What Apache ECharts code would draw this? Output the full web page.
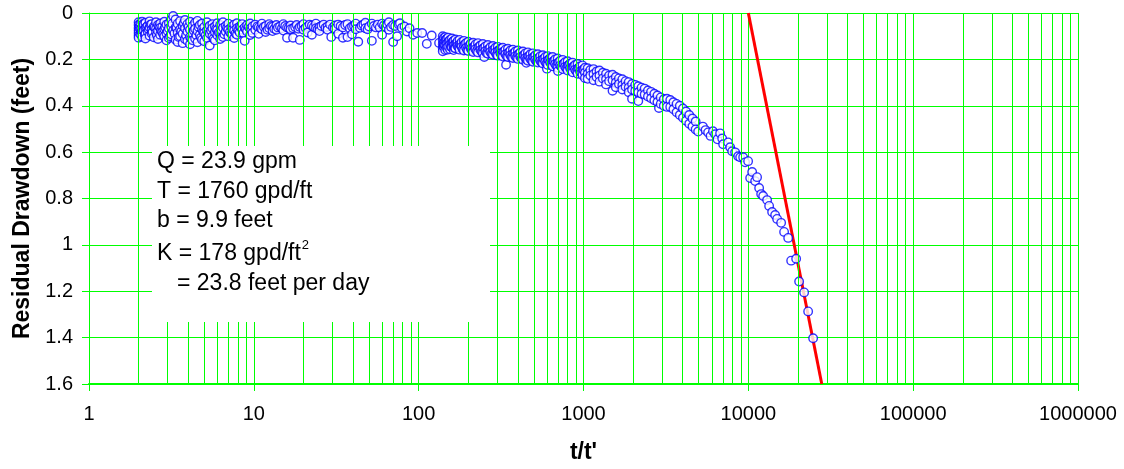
<!DOCTYPE html>
<html>
<head>
<meta charset="utf-8">
<script src="https://cdn.jsdelivr.net/npm/echarts@6/dist/echarts.min.js"></script>
<style>
  html, body { margin: 0; padding: 0; background: #ffffff; }
  #chart { width: 1124px; height: 469px; }
</style>
</head>
<body>
<div id="chart"></div>
<script>
// Recovery test: residual drawdown against t/t' (semi-log, Theis recovery)
const decades = [1, 10, 100, 1000, 10000, 100000, 1000000];
const drawdownRange = [0, 1.6];

// Observed residual drawdown, [t/t', feet]
const lateRecovery = [
  [2.00,0.040],[2.00,0.052],[2.00,0.065],[2.00,0.075],[2.00,0.086],[2.00,0.097],[2.00,0.107],
  [2.03,0.058],[2.05,0.045],[2.05,0.070],[2.05,0.092],[2.08,0.080],
  [2.10,0.038],[2.10,0.060],[2.10,0.083],[2.10,0.102],[2.12,0.048],
  [2.15,0.050],[2.15,0.074],[2.18,0.095],
  [2.20,0.042],[2.20,0.066],[2.20,0.090],[2.20,0.110],[2.23,0.060],
  [2.27,0.055],[2.27,0.080],[2.30,0.070],
  [2.33,0.036],[2.33,0.062],[2.33,0.098],[2.36,0.050],
  [2.40,0.048],[2.40,0.072],[2.40,0.088],[2.43,0.082],
  [2.47,0.058],[2.47,0.105],[2.50,0.062],
  [2.55,0.040],[2.55,0.068],[2.55,0.085],[2.58,0.095],
  [2.62,0.052],[2.62,0.078],[2.62,0.112],[2.66,0.058],
  [2.70,0.045],[2.70,0.064],[2.70,0.094],[2.74,0.076],
  [2.78,0.060],[2.78,0.082],[2.82,0.092],
  [2.86,0.038],[2.86,0.070],[2.86,0.100],[2.90,0.060],
  [2.95,0.050],[2.95,0.088],[2.95,0.118],[3.00,0.078],
  [3.05,0.044],[3.05,0.066],[3.05,0.108],[3.10,0.100],
  [3.15,0.030],[3.15,0.058],[3.15,0.092],[3.20,0.046],
  [3.24,0.013],[3.24,0.075],[3.30,0.088],
  [3.35,0.028],[3.35,0.062],[3.35,0.115],[3.40,0.064],
  [3.45,0.046],[3.45,0.084],[3.45,0.125],[3.50,0.104],
  [3.57,0.035],[3.57,0.070],[3.57,0.100],[3.63,0.080],
  [3.70,0.055],[3.70,0.090],[3.70,0.130],[3.76,0.044],
  [3.82,0.030],[3.82,0.066],[3.82,0.112],[3.88,0.096],
  [3.95,0.048],[3.95,0.080],[3.95,0.120],[4.02,0.060],
  [4.10,0.038],[4.10,0.072],[4.10,0.104],[4.10,0.135],[4.17,0.110],
  [4.25,0.056],[4.25,0.088],[4.25,0.118],[4.32,0.076],
  [4.40,0.042],[4.40,0.068],[4.40,0.110],[4.48,0.096],
  [4.55,0.034],[4.55,0.078],[4.55,0.126],[4.62,0.060],
  [4.70,0.052],[4.70,0.094],[4.78,0.106],
  [4.85,0.045],[4.85,0.070],[4.85,0.115],[4.93,0.080],
  [5.00,0.060],[5.00,0.086],[5.00,0.122],[5.10,0.096],
  [5.20,0.040],[5.20,0.074],[5.20,0.108],[5.30,0.062],
  [5.40,0.055],[5.40,0.090],[5.40,0.140],[5.50,0.076],
  [5.60,0.048],[5.60,0.066],[5.60,0.100],[5.70,0.110],
  [5.80,0.058],[5.80,0.082],[5.80,0.118],[5.90,0.068],
  [6.00,0.044],[6.00,0.072],[6.00,0.096],[6.12,0.084],
  [6.25,0.052],[6.25,0.086],[6.25,0.112],[6.38,0.074],
  [6.50,0.040],[6.50,0.064],[6.50,0.104],[6.62,0.092],
  [6.75,0.056],[6.75,0.080],[6.88,0.064],
  [7.00,0.046],[7.00,0.072],[7.00,0.100],[7.15,0.082],
  [7.30,0.060],[7.30,0.090],[7.45,0.070],
  [7.60,0.050],[7.60,0.076],[7.60,0.108],[7.75,0.088],
  [7.90,0.044],[7.90,0.066],[7.90,0.094],[8.05,0.074],
  [8.20,0.058],[8.20,0.084],[8.35,0.060],
  [8.50,0.048],[8.50,0.072],[8.65,0.086],
  [8.80,0.062],[8.80,0.120],[8.95,0.070],
  [9.10,0.052],[9.10,0.080],[9.30,0.060],
  [9.50,0.045],[9.50,0.068],[9.50,0.095],[9.65,0.074],
  [9.80,0.058],[9.80,0.086]
];

const midRecovery = [
  [10.2,0.050],[10.2,0.072],[10.5,0.058],[10.7,0.062],[10.7,0.090],[11.0,0.066],
  [11.2,0.046],[11.2,0.070],[11.5,0.060],[11.8,0.056],[11.8,0.082],[12.1,0.072],
  [12.4,0.048],[12.4,0.066],[12.7,0.056],[13.0,0.060],[13.0,0.078],[13.3,0.068],
  [13.7,0.052],[13.7,0.072],[14.0,0.062],[14.4,0.058],[14.8,0.066],[15.1,0.048],
  [15.1,0.076],[15.5,0.056],[15.9,0.062],[15.9,0.107],[16.3,0.064],[16.7,0.054],
  [16.7,0.070],[17.3,0.066],[17.3,0.107],[17.8,0.060],[18.2,0.052],[18.6,0.068],
  [19.0,0.060],[19.0,0.116],[19.5,0.056],[20.0,0.048],[20.0,0.072],[20.6,0.064],
  [21.2,0.058],[21.2,0.084],[21.8,0.050],[22.5,0.054],[22.5,0.094],[23.1,0.060],
  [23.8,0.046],[23.8,0.066],[24.4,0.070],[25.0,0.060],[25.0,0.078],[25.7,0.056],
  [26.5,0.050],[27.2,0.064],[28.0,0.058],[28.0,0.072],[29.0,0.050],[29.5,0.103],
  [30.2,0.062],[31.0,0.054],[31.0,0.068],[32.5,0.050],[32.5,0.090],[33.6,0.056],
  [34.7,0.062],[34.7,0.107],[35.8,0.052],[37.0,0.048],[37.0,0.104],[38.2,0.066],
  [39.4,0.058],[39.4,0.092],[40.5,0.056],[41.5,0.046],[41.5,0.070],[43.0,0.124],
  [44.0,0.064],[45.0,0.054],[46.2,0.050],[47.5,0.042],[47.5,0.066],[49.0,0.070],
  [50.0,0.058],[52.0,0.046],[52.0,0.120],[53.5,0.056],[55.0,0.062],[56.5,0.050],
  [58.0,0.062],[60.0,0.046],[60.0,0.094],[61.5,0.054],[63.0,0.060],[64.5,0.050],
  [66.0,0.040],[66.0,0.072],[68.0,0.060],[70.0,0.052],[70.0,0.125],[72.0,0.056],
  [74.0,0.100],[75.5,0.048],[77.0,0.044],[79.0,0.064],[82.0,0.058],[85.0,0.080],
  [88.0,0.066],[92.5,0.094],[98.0,0.086],[105,0.086],[112,0.133],[120,0.097],
  [133,0.129]
];

const earlyRecovery = [
  [140,0.100],[140,0.118],[140,0.135],[140,0.152],[140,0.165],
  [142,0.108],[142,0.128],[142,0.146],[143,0.137],
  [145,0.104],[145,0.122],[145,0.140],[145,0.160],[146,0.114],
  [148,0.112],[148,0.132],[148,0.150],[150,0.158],
  [151,0.106],[151,0.126],[151,0.144],[153,0.120],
  [155,0.116],[155,0.136],[155,0.156],[157,0.146],
  [159,0.110],[159,0.130],[159,0.148],[161,0.124],
  [163,0.120],[163,0.140],[163,0.160],[165,0.150],
  [167,0.114],[167,0.134],[167,0.152],[170,0.132],
  [172,0.122],[172,0.142],[175,0.148],
  [177,0.116],[177,0.136],[177,0.158],[180,0.138],
  [182,0.126],[182,0.146],[185,0.156],
  [188,0.120],[188,0.140],[188,0.162],[191,0.134],
  [194,0.130],[194,0.150],[197,0.160],
  [200,0.124],[200,0.144],[200,0.164],[204,0.140],
  [207,0.132],[207,0.154],[210,0.160],
  [214,0.128],[214,0.148],[214,0.168],[218,0.146],
  [221,0.136],[221,0.156],[225,0.164],
  [229,0.130],[229,0.150],[229,0.170],[233,0.144],
  [237,0.140],[237,0.160],[241,0.166],
  [245,0.134],[245,0.154],[245,0.174],[249,0.150],
  [250,0.190],
  [254,0.144],[254,0.164],[258,0.172],
  [263,0.138],[263,0.158],[263,0.176],[268,0.156],
  [272,0.148],[272,0.168],[277,0.176],
  [282,0.142],[282,0.160],[282,0.180],[287,0.162],
  [292,0.150],[292,0.170],[297,0.180],
  [302,0.146],[302,0.164],[302,0.184],[308,0.160],
  [313,0.154],[313,0.174],[318,0.182],
  [324,0.150],[324,0.168],[324,0.188],[330,0.166],
  [336,0.158],[336,0.178],
  [339,0.223],[342,0.186],
  [348,0.154],[348,0.172],[348,0.190],[354,0.170],
  [360,0.162],[360,0.182],[366,0.190],
  [373,0.158],[373,0.176],[373,0.194],[380,0.174],
  [386,0.166],[386,0.186],[393,0.192],
  [400,0.162],[400,0.180],[400,0.198],[407,0.176],
  [414,0.170],[414,0.190],[421,0.196],
  [429,0.166],[429,0.184],[429,0.202],[436,0.182],
  [444,0.174],[444,0.194],
  [450,0.215],[452,0.200],
  [460,0.170],[460,0.188],[460,0.206],[468,0.186],
  [476,0.178],[476,0.198],[485,0.204],
  [493,0.174],[493,0.192],[493,0.210],[502,0.190],
  [510,0.182],[510,0.202],[519,0.208],
  [528,0.178],[528,0.196],[528,0.214],[537,0.194],
  [547,0.186],[547,0.206],[556,0.212],
  [566,0.182],[566,0.200],[566,0.218],[576,0.198],
  [586,0.190],[586,0.210],[596,0.218],
  [600,0.240],
  [607,0.186],[607,0.204],[607,0.224],[617,0.202],
  [628,0.194],[628,0.214],[639,0.222],
  [650,0.190],[650,0.210],[650,0.230],[661,0.208],
  [673,0.200],[673,0.220],[685,0.228],
  [697,0.196],[697,0.216],[697,0.236],
  [700,0.250],[709,0.212],
  [722,0.206],[722,0.226],[734,0.232],
  [747,0.202],[747,0.222],[747,0.242],[760,0.218],
  [774,0.212],[774,0.232],[787,0.238],
  [801,0.208],[801,0.228],[801,0.248],[815,0.224],
  [829,0.218],[829,0.238],[843,0.244],
  [858,0.214],[858,0.234],[858,0.256],[873,0.230],
  [889,0.224],[889,0.244],[904,0.250],
  [920,0.220],[920,0.240],[920,0.262],[936,0.236],
  [952,0.230],[952,0.252],[969,0.258],
  [986,0.226],[986,0.246],[986,0.268],[1003,0.246],
  [1020,0.236],[1020,0.258],[1020,0.280],
  [1060,0.238],[1060,0.262],[1060,0.284],
  [1100,0.246],[1100,0.270],
  [1150,0.242],[1150,0.264],[1150,0.290],
  [1200,0.252],[1200,0.276],
  [1250,0.248],[1250,0.270],[1250,0.296],
  [1310,0.258],[1310,0.282],
  [1370,0.262],[1370,0.286],[1370,0.308],
  [1430,0.270],[1430,0.294],
  [1500,0.266],[1500,0.290],[1500,0.335],
  [1570,0.276],[1570,0.300],[1570,0.320],
  [1640,0.282],[1640,0.306],
  [1720,0.286],[1720,0.312],[1720,0.330],
  [1800,0.294],[1800,0.318],
  [1880,0.298],[1880,0.322],[1880,0.342],
  [1970,0.306],[1970,0.330],[1970,0.370],
  [2060,0.310],[2060,0.336],
  [2150,0.316],[2150,0.342],[2150,0.380],
  [2250,0.322],[2250,0.348],
  [2350,0.326],[2350,0.352],
  [2460,0.334],[2460,0.360],
  [2570,0.340],[2570,0.368],
  [2690,0.348],[2690,0.376],
  [2810,0.356],[2810,0.384],[2870,0.410],
  [2940,0.364],[2940,0.392],
  [3070,0.372],[3070,0.400],
  [3210,0.370],[3210,0.405],
  [3360,0.375],[3360,0.405],
  [3510,0.385],[3510,0.415],
  [3670,0.392],[3670,0.428],
  [3840,0.400],[3840,0.440],
  [4010,0.412],[4010,0.452],
  [4190,0.425],[4190,0.465],
  [4380,0.440],[4380,0.478],
  [4580,0.455],[4580,0.490],
  [4790,0.468],[4790,0.502]
];

const initialRecovery = [
  [4960,0.511],[5300,0.490],[5500,0.505],[5700,0.515],[5900,0.530],[6100,0.510],
  [6290,0.523],[6500,0.545],[6740,0.519],[6940,0.541],[7030,0.566],[7540,0.558],
  [7760,0.579],[7980,0.596],[8320,0.601],[8670,0.618],[8920,0.622],[9300,0.622],
  [9560,0.644],[9970,0.639],[10260,0.712],[10550,0.686],[11000,0.725],[11300,0.708],
  [11630,0.755],[11960,0.781],[12300,0.789],[13000,0.807],[13370,0.832],[13940,0.858],
  [14540,0.871],[14950,0.888],[15810,0.905],[16480,0.944],[17450,0.970],[18190,1.068],
  [19500,1.060],[20330,1.158],[21800,1.205],[23060,1.287],[24720,1.403]
];

// Straight-line fit through the early recovery data (3.585 ft per log cycle)
const fitLine = [[10000, 0], [27900, 1.6]];

const annotationLines = [
  'Q = 23.9 gpm',
  'T = 1760 gpd/ft',
  'b = 9.9 feet',
  'K = 178 gpd/ft',
  '= 23.8 feet per day'
];
const kExponent = '2';

// Minor log gridlines (2..9 within each decade)
const minorGrid = [];
for (let i = 0; i < decades.length - 1; i++) {
  for (let m = 2; m <= 9; m++) minorGrid.push(m * decades[i]);
}

const FONT = '"Liberation Sans", Arial, Helvetica, sans-serif';
const GREEN = '#00ff00';
const BOX_FONT_SIZE = 23;

const textRows = [
  { x: 157, y: 162 },
  { x: 157, y: 192 },
  { x: 157, y: 221 },
  { x: 157, y: 254 },
  { x: 177, y: 284 }
];

// width of the K line, so the exponent sits right after "ft"
const measureCtx = document.createElement('canvas').getContext('2d');
measureCtx.font = BOX_FONT_SIZE + 'px ' + FONT;
const kWidth = measureCtx.measureText(annotationLines[3]).width;

const chart = echarts.init(document.getElementById('chart'), null, { renderer: 'canvas' });

chart.setOption({
  animation: false,
  backgroundColor: '#ffffff',
  grid: { left: 89, right: 46, top: 13, bottom: 83, containLabel: false },
  xAxis: {
    type: 'log',
    logBase: 10,
    min: decades[0],
    max: decades[decades.length - 1],
    name: "t/t'",
    nameLocation: 'middle',
    nameGap: 57,
    nameTextStyle: { fontFamily: FONT, fontSize: 23, fontWeight: 'bold', color: '#000' },
    axisLine: { show: true, onZero: false, lineStyle: { color: GREEN, width: 2 } },
    axisTick: { show: true, inside: false, length: 7, lineStyle: { color: GREEN, width: 1 } },
    axisLabel: {
      fontFamily: FONT, fontSize: 20, color: '#000', margin: 20,
      formatter: v => String(Math.round(v))
    },
    splitLine: { show: true, lineStyle: { color: GREEN, width: 1 } }
  },
  yAxis: {
    type: 'value',
    inverse: true,
    min: drawdownRange[0],
    max: drawdownRange[1],
    interval: 0.2,
    name: 'Residual Drawdown (feet)',
    nameLocation: 'middle',
    nameGap: 53,
    nameTextStyle: { fontFamily: FONT, fontSize: 23, fontWeight: 'bold', color: '#000' },
    axisLine: { show: true, lineStyle: { color: GREEN, width: 1 } },
    axisTick: { show: true, inside: false, length: 7, lineStyle: { color: GREEN, width: 1 } },
    axisLabel: { fontFamily: FONT, fontSize: 20, color: '#000', margin: 16 },
    splitLine: { show: true, lineStyle: { color: GREEN, width: 1 } }
  },
  series: [
    {
      name: 'grid',
      type: 'line',
      data: [],
      z: 1,
      silent: true,
      markLine: {
        silent: true,
        symbol: ['none', 'none'],
        label: { show: false },
        emphasis: { disabled: true },
        lineStyle: { color: GREEN, width: 1, type: 'solid' },
        data: minorGrid.map(v => ({ xAxis: v }))
      }
    },
    {
      name: 'fit',
      type: 'line',
      data: fitLine,
      showSymbol: false,
      z: 2,
      lineStyle: { color: '#ff0000', width: 3 }
    },
    {
      name: 'residual drawdown',
      type: 'scatter',
      data: [...lateRecovery, ...midRecovery, ...earlyRecovery, ...initialRecovery],
      symbol: 'circle',
      symbolSize: 8.5,
      z: 3,
      itemStyle: { color: '#ffffff', borderColor: '#0000ff', borderWidth: 1.4 }
    }
  ],
  graphic: [
    {
      type: 'rect',
      left: 152, top: 146,
      shape: { width: 338, height: 176 },
      style: { fill: '#ffffff' },
      z: 100
    },
    ...annotationLines.map((t, i) => ({
      type: 'text',
      x: textRows[i].x,
      y: textRows[i].y,
      z: 101,
      style: {
        text: t,
        fontFamily: FONT,
        fontSize: BOX_FONT_SIZE,
        fill: '#000',
        verticalAlign: 'middle'
      }
    })),
    {
      type: 'text',
      x: textRows[3].x + kWidth + 1,
      y: textRows[3].y - 9,
      z: 101,
      style: {
        text: kExponent,
        fontFamily: FONT,
        fontSize: 13,
        fill: '#000',
        verticalAlign: 'middle'
      }
    }
  ]
});
</script>
</body>
</html>
